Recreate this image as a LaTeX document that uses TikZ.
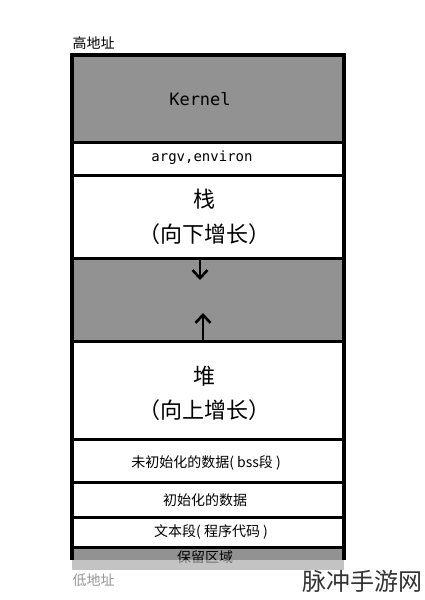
\documentclass[tikz,border=0pt]{standalone}
\usepackage{fontspec}
\setmainfont{DejaVu Sans}
\setmonofont{DejaVu Sans Mono}
\newfontfamily\cjk{Noto Sans CJK SC}
\usetikzlibrary{arrows.meta}
\definecolor{memgray}{RGB}{146,146,146}
\definecolor{addrgray}{RGB}{150,150,150}
\tikzset{
  rowline/.style={line width=3pt},
  bigtxt/.style={font=\cjk\fontsize{22}{27}\selectfont, align=center},
  smalltxt/.style={font=\cjk\fontsize{14}{17}\selectfont},
  growarrow/.style={line width=2.6pt, -{Straight Barb[length=8pt,width=15pt,line width=2.6pt]}}
}
\begin{document}
\begin{tikzpicture}[x=1pt,y=-1pt]
			\useasboundingbox (0,0) rectangle (424,600);
			% --- Parameters ---
			\def\xL{72}       % left edge of the memory column
			\def\xR{344}      % right edge
			\def\yTop{55}     % top of kernel
			\def\yArgv{142}   % kernel / argv border
			\def\yStack{175}  % argv / stack border
			\def\yGap{258}    % stack / free gap border
			\def\yHeap{341}   % free gap / heap border
			\def\yBss{439}    % heap / bss border
			\def\yData{482}   % bss / data border
			\def\yText{517}   % data / text border
			\def\yRes{547}    % text / reserved border
			\def\yBot{570}    % bottom of reserved area
			% --- Gray areas (kernel, free gap, reserved) ---
			\fill[memgray] (\xL,\yTop) rectangle (\xR,\yArgv);
			\fill[memgray] (\xL,\yGap) rectangle (\xR,\yHeap);
			\fill[memgray] (\xL,\yRes) rectangle (\xR,\yBot);
			% --- Frame and row borders ---
			\draw[line width=3.5pt] (\xL,560) -- (\xL,\yTop) -- (\xR,\yTop) -- (\xR,560);
			\foreach \yy in {\yArgv,\yStack,\yGap,\yHeap,\yBss,\yData,\yText,\yRes}
				\draw[rowline] (\xL,\yy) -- (\xR,\yy);
			% --- Labels of the rows ---
			\node[font=\ttfamily\fontsize{17}{20}\selectfont] (kernel) at (200,99) {Kernel};
			\node[font=\ttfamily\fontsize{14}{17}\selectfont] (argv) at (202,158) {argv,environ};
			\node[bigtxt] (stack) at (204,199) {栈};
			\node[bigtxt] (stackdir) at (204,234) {（向下增长）};
			\node[bigtxt] (heap) at (204,376) {堆};
			\node[bigtxt] (heapdir) at (204,410) {（向上增长）};
			\node[smalltxt] (bss) at (206,463) {未初始化的数据( bss段 )};
			\node[smalltxt] (data) at (205,500) {初始化的数据};
			\node[smalltxt] (text) at (211,532) {文本段( 程序代码 )};
			\node[smalltxt] (res) at (205,557) {保留区域};
			% --- Growth arrows in the free gap ---
			\coordinate (dnS) at (200,\yGap);
			\coordinate (dnE) at (200,280);
			\coordinate (upS) at (203,\yHeap);
			\coordinate (upE) at (203,313);
			\draw[growarrow] (dnS) -- (dnE);
			\draw[growarrow] (upS) -- (upE);
			% --- Light band over the bottom ---
			\fill[white,opacity=0.45] (70,560) rectangle (347,570);
			% --- Address labels ---
			\node[smalltxt, anchor=west] (high) at (69,43) {高地址};
			\node[smalltxt, anchor=west, text=addrgray] (low) at (69,580) {低地址};
			\node[font=\cjk\fontsize{24}{28}\selectfont, anchor=east, inner sep=1pt, text=black!80] (mark) at (424,581) {脉冲手游网};
\end{tikzpicture}
\end{document}
